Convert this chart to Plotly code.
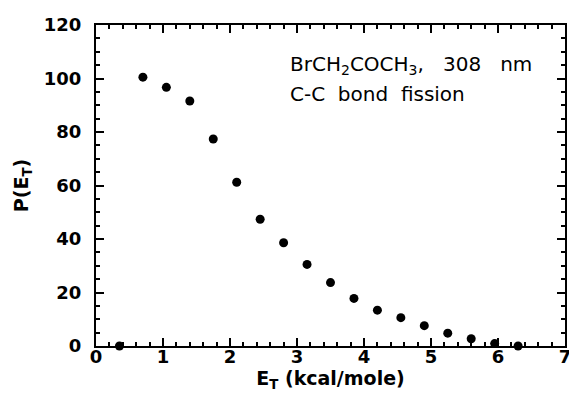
import plotly.graph_objects as go

# Data
energy = [0.35, 0.70, 1.05, 1.40, 1.75, 2.10, 2.45, 2.80, 3.15, 3.50,
          3.85, 4.20, 4.55, 4.90, 5.25, 5.60, 5.95, 6.30]
p_et = [0.0, 100.5, 96.7, 91.6, 77.4, 61.2, 47.4, 38.6, 30.5, 23.7,
        17.8, 13.4, 10.6, 7.6, 4.8, 2.7, 0.9, 0.0]

x_ticks = [0, 1, 2, 3, 4, 5, 6, 7]
y_ticks = [0, 20, 40, 60, 80, 100, 120]

FONT = "DejaVu Sans"

fig = go.Figure()
fig.add_trace(go.Scatter(
    x=energy, y=p_et, mode="markers",
    marker=dict(color="black", size=9, line=dict(width=0)),
    cliponaxis=False, showlegend=False,
))

axis_common = dict(
    showline=True, linecolor="black", linewidth=2, mirror="ticks",
    ticks="inside", tickcolor="black", tickwidth=2, ticklen=8,
    showgrid=False, zeroline=False,
    tickfont=dict(family=FONT, size=18, color="black", weight="bold"),
)

fig.update_xaxes(
    range=[0, 7], tickvals=x_ticks, ticktext=[str(v) for v in x_ticks],
    minor=dict(ticks="inside", dtick=0.2, ticklen=4, tickwidth=1.5, tickcolor="black"),
    ticklabelstandoff=-7, ticklabeloverflow="allow",
    title=dict(text="E<sub>T</sub> (kcal/mole)", standoff=0,
               font=dict(family=FONT, size=19, color="black", weight="bold")),
    **axis_common,
)
fig.update_yaxes(
    range=[0, 120], tickvals=y_ticks, ticktext=[str(v) for v in y_ticks],
    minor=dict(ticks="inside", dtick=5, ticklen=4, tickwidth=1.5, tickcolor="black"),
    ticklabelstandoff=9,
    title=dict(text="P(E<sub>T</sub>)", standoff=10,
               font=dict(family=FONT, size=19, color="black", weight="bold")),
    **axis_common,
)

fig.add_annotation(
    x=0.41, y=0.875, xref="paper", yref="paper", xanchor="left", yanchor="middle",
    text="BrCH<sub>2</sub>COCH<sub>3</sub>,   308   nm", showarrow=False, align="left",
    font=dict(family=FONT, size=20, color="black"),
)
fig.add_annotation(
    x=0.41, y=0.785, xref="paper", yref="paper", xanchor="left", yanchor="middle",
    text="C-C  bond  fission", showarrow=False, align="left",
    font=dict(family=FONT, size=20, color="black"),
)

# The page body has an 8 px margin, so the figure is sized to fit the window
fig.update_layout(
    width=569, height=394,
    margin=dict(l=88, r=6, t=11, b=56),
    paper_bgcolor="white", plot_bgcolor="white",
)

fig.write_html("out.html")
